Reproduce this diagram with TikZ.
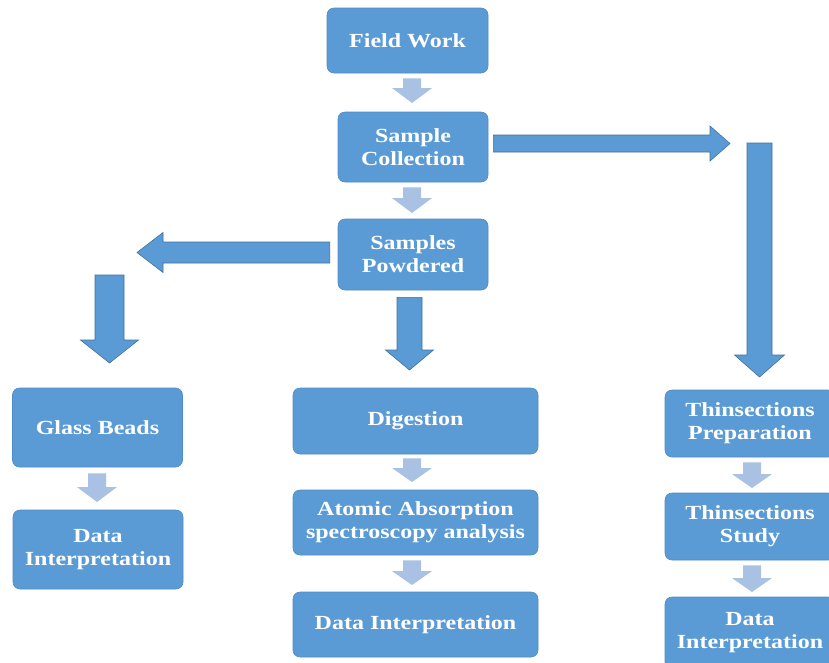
\documentclass[tikz,border=0pt]{standalone}
\usepackage{fontspec}
\setmainfont[FakeStretch=1.2]{Liberation Serif}
\usetikzlibrary{calc}
\definecolor{boxblue}{HTML}{5B9BD5}
\definecolor{boxedge}{HTML}{4F8BC4}
\definecolor{lightarrow}{HTML}{A9C1E3}
\definecolor{bigedge}{HTML}{41719C}
\tikzset{
  flowbox/.style={rectangle, rounded corners=7pt, fill=boxblue, draw=boxedge, line width=0.6pt,
    text=white, font=\bfseries\fontsize{20}{23}\selectfont, align=center, inner sep=0pt},
  lightarr/.style={fill=lightarrow},
  bigarr/.style={fill=boxblue, draw=bigedge, line width=0.6pt, line join=miter}
}
% vertical block arrow: #1 style, #2 start, #3 tip, #4 half shaft, #5 half head, #6 head length
\newcommand{\vblockarrow}[6]{%
  \path[#1] let \p1=(#2), \p2=(#3) in
    (\x2-#4,\y1) -- (\x2+#4,\y1) -- (\x2+#4,\y2+#6) -- (\x2+#5,\y2+#6) -- (\x2,\y2)
    -- (\x2-#5,\y2+#6) -- (\x2-#4,\y2+#6) -- cycle;}
% horizontal block arrow: tip y taken from tip point
\newcommand{\hblockarrow}[6]{%
  \path[#1] let \p1=(#2), \p2=(#3), \n1={sign(\x2-\x1)} in
    (\x1,\y2+#4) -- (\x2-\n1*#6,\y2+#4) -- (\x2-\n1*#6,\y2+#5) -- (\x2,\y2)
    -- (\x2-\n1*#6,\y2-#5) -- (\x2-\n1*#6,\y2-#4) -- (\x1,\y2-#4) -- cycle;}
\begin{document}
\begin{tikzpicture}[x=1pt,y=-1pt]
\useasboundingbox (0,0) rectangle (829,662);
\fill[white] (0,0) rectangle (829,662);

% boxes
\node[flowbox, minimum width=161pt, minimum height=65pt] (fw) at (407.5,40.5) {Field Work};
\node[flowbox, minimum width=150pt, minimum height=70pt] (sc) at (413,147) {Sample\\Collection};
\node[flowbox, minimum width=150pt, minimum height=71pt] (sp) at (413,254.5) {Samples\\Powdered};
\node[flowbox, minimum width=170pt, minimum height=79pt] (gb) at (97.5,427.5) {Glass Beads};
\node[flowbox, minimum width=170pt, minimum height=79pt] (dl) at (98,549.5) {Data\\Interpretation};
\node[flowbox, minimum width=245pt, minimum height=66pt] (dg) at (415.5,421) {Digestion};
\node[flowbox, minimum width=245pt, minimum height=65pt] (aas) at (415.5,522.5) {Atomic Absorption\\spectroscopy analysis};
\node[flowbox, minimum width=245pt, minimum height=65pt] (dm) at (415.5,624.5) {Data Interpretation};
\node[flowbox, minimum width=170pt, minimum height=67pt] (tp) at (750,423.5) {Thinsections\\Preparation};
\node[flowbox, minimum width=170pt, minimum height=67pt] (ts) at (750,526.5) {Thinsections\\Study};
\node[flowbox, minimum width=170pt, minimum height=72pt] (dr) at (750,633) {Data\\Interpretation};

% small light arrows
\coordinate (a1s) at ($(fw.south)+(0,5)$);   \coordinate (a1t) at (412,103);
\vblockarrow{lightarr}{a1s}{a1t}{9}{20}{15}
\coordinate (a2s) at ($(sc.south)+(0,5)$);   \coordinate (a2t) at (412,213);
\vblockarrow{lightarr}{a2s}{a2t}{9}{20}{15}
\coordinate (a3s) at ($(gb.south)+(0,6)$);   \coordinate (a3t) at (97,502);
\vblockarrow{lightarr}{a3s}{a3t}{9}{20}{15}
\coordinate (a4s) at ($(dg.south)+(0,4)$);   \coordinate (a4t) at (412,482);
\vblockarrow{lightarr}{a4s}{a4t}{9}{20}{14}
\coordinate (a5s) at ($(aas.south)+(0,5)$);  \coordinate (a5t) at (412,585);
\vblockarrow{lightarr}{a5s}{a5t}{9}{20}{14}
\coordinate (a6s) at ($(tp.south)+(0,5)$);   \coordinate (a6t) at (752,488);
\vblockarrow{lightarr}{a6s}{a6t}{9}{20}{14}
\coordinate (a7s) at ($(ts.south)+(0,5)$);   \coordinate (a7t) at (752,592);
\vblockarrow{lightarr}{a7s}{a7t}{9}{20}{14}

% big arrows
\coordinate (rs) at ($(sc.east)+(5,-3.5)$);  \coordinate (rt) at (730,143.5);
\hblockarrow{bigarr}{rs}{rt}{8.5}{17.5}{20}
\coordinate (ds) at (759.5,143);             \coordinate (dt) at (759.5,377);
\vblockarrow{bigarr}{ds}{dt}{12.5}{25}{22}
\coordinate (ls) at ($(sp.west)+(-8,-2)$);   \coordinate (lt) at (137,252.5);
\hblockarrow{bigarr}{ls}{lt}{10.5}{20}{26}
\coordinate (gs) at (109.5,275);             \coordinate (gt) at (109.5,363);
\vblockarrow{bigarr}{gs}{gt}{14.5}{29}{23}
\coordinate (ms) at ($(sp.south)+(0,7)$);    \coordinate (mt) at (409.5,370);
\vblockarrow{bigarr}{ms}{mt}{12.5}{24}{20}
\end{tikzpicture}
\end{document}
